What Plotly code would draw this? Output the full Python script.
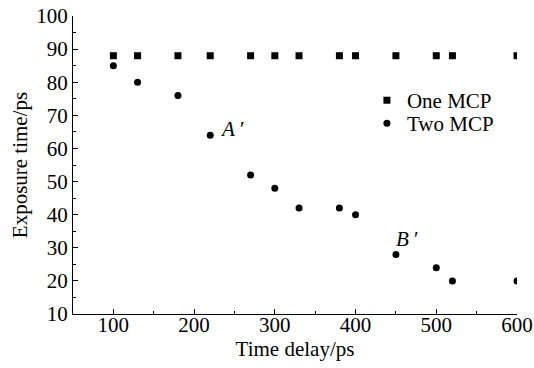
import plotly.graph_objects as go

one_x = [100, 130, 180, 220, 270, 300, 330, 380, 400, 450, 500, 520, 600]
one_y = [88, 88, 88, 88, 88, 88, 88, 88, 88, 88, 88, 88, 88]
two_x = [100, 130, 180, 220, 270, 300, 330, 380, 400, 450, 500, 520, 600]
two_y = [85, 80, 76, 64, 52, 48, 42, 42, 40, 28, 24, 20, 20]
x_ticks = [100, 200, 300, 400, 500, 600]
y_ticks = [10, 20, 30, 40, 50, 60, 70, 80, 90, 100]

FONT = "Liberation Serif"
FS = 21

fig = go.Figure()
fig.add_trace(go.Scatter(x=one_x, y=one_y, mode="markers", name="One MCP", legend="legend",
                         showlegend=True,
                         marker=dict(symbol="square", size=7, color="black")))
fig.add_trace(go.Scatter(x=two_x, y=two_y, mode="markers", name="Two MCP", legend="legend2",
                         showlegend=True,
                         marker=dict(symbol="circle", size=7, color="black")))

fig.add_annotation(x=248, y=66, text="<i>A</i> ′", showarrow=False,
                   font=dict(family=FONT, size=FS, color="black"))
fig.add_annotation(x=464, y=32.6, text="<i>B</i> ′", showarrow=False,
                   font=dict(family=FONT, size=FS, color="black"))

axis_common = dict(showgrid=False, zeroline=False, showline=True, linecolor="black",
                   linewidth=1.2, ticks="inside", ticklen=5, tickcolor="black",
                   automargin=False, ticklabeloverflow="allow",
                   tickfont=dict(family=FONT, size=FS, color="black"))
fig.update_xaxes(range=[50, 600], tickvals=x_ticks, ticklabelstandoff=-8,
                 minor=dict(ticks="inside", ticklen=3, tickcolor="black", dtick=50, tick0=50),
                 title=dict(text="Time delay/ps", font=dict(family=FONT, size=FS, color="black"), standoff=2),
                 **axis_common)
fig.update_yaxes(range=[10, 100], tickvals=y_ticks,
                 minor=dict(ticks="inside", ticklen=3, tickcolor="black", dtick=5, tick0=5),
                 title=dict(text="Exposure time/ps", font=dict(family=FONT, size=FS, color="black"), standoff=2),
                 **axis_common)

leg_common = dict(xanchor="left", yanchor="top", bgcolor="rgba(0,0,0,0)", itemwidth=30,
                  font=dict(family=FONT, size=FS, color="black"))
fig.update_layout(width=534, height=368, margin=dict(l=73, r=17, t=16, b=54),
                  showlegend=True,
                  plot_bgcolor="white", paper_bgcolor="white",
                  font=dict(family=FONT, color="black"),
                  legend=dict(x=0.662, y=0.785, **leg_common),
                  legend2=dict(x=0.662, y=0.708, **leg_common))

fig.write_html("out.html", config={"displayModeBar": False},
               post_script="document.body.style.margin='0';document.body.style.overflow='hidden';")
